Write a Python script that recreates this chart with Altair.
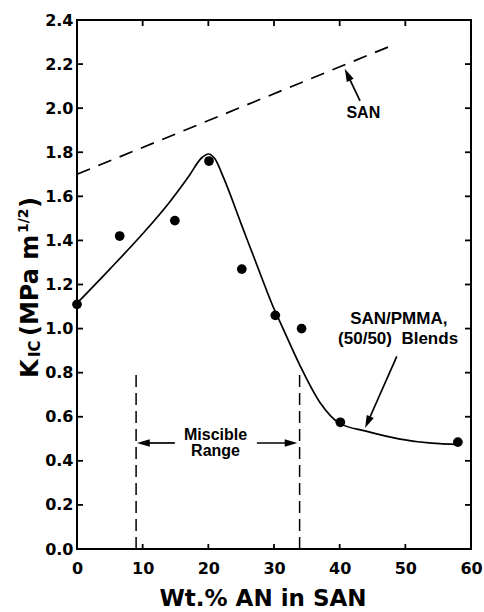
import math
import altair as alt
import pandas as pd

# ---------------- data ----------------
an_pts = [0, 6.5, 14.9, 20.1, 25.1, 30.2, 34.2, 40.1, 58.0]
kic_pts = [1.11, 1.42, 1.49, 1.76, 1.27, 1.06, 1.00, 0.575, 0.485]

curve_x = [0, 5, 10, 14, 17, 19, 20, 21, 22.3, 25, 27.9, 30, 31, 34, 37, 40, 44, 49, 54, 58]
curve_y = [1.115, 1.27, 1.43, 1.57, 1.69, 1.775, 1.792, 1.77, 1.686, 1.475, 1.249, 1.09,
           1.025, 0.83, 0.665, 0.57, 0.535, 0.50, 0.48, 0.475]

san_x = [0, 47.6]
san_y = [1.70, 2.28]

misc_x = [9.0, 33.9]
misc_top = [0.81, 0.80]

x_ticks = [0, 10, 20, 30, 40, 50, 60]
y_ticks = [0.0, 0.2, 0.4, 0.6, 0.8, 1.0, 1.2, 1.4, 1.6, 1.8, 2.0, 2.2, 2.4]

# annotations (data coordinates)
note_text = ["SAN", "Miscible", "Range", "SAN/PMMA,", "(50/50)\u00a0\u00a0Blends"]
note_x = [43.6, 21.1, 21.1, 49.0, 48.9]
note_y = [1.977, 0.518, 0.443, 1.045, 0.951]
note_size = [16, 16, 16, 17, 17]

arrow_tail_x = [43.1, 14.9, 27.4, 48.7]
arrow_tail_y = [2.033, 0.481, 0.481, 0.874]
arrow_head_x = [40.8, 9.2, 33.5, 43.9]
arrow_head_y = [2.177, 0.481, 0.481, 0.55]

W, H = 394, 529
XMAX, YMAX = 60, 2.4
FONT = "DejaVu Sans"
AFONT = "Liberation Sans"

xs = alt.Scale(domain=[0, XMAX], nice=False, zero=False)
ys = alt.Scale(domain=[0, YMAX], nice=False, zero=False)

x_axis = alt.Axis(values=x_ticks, labelFlush=False, ticks=False, domain=False, grid=False,
                  title=None, labelPadding=11, labelFont=FONT, labelFontWeight="bold",
                  labelFontSize=16, labelColor="black")
y_axis = alt.Axis(values=y_ticks, format=".1f", ticks=False, domain=False, grid=False,
                  title=None, labelPadding=4, labelFont=FONT, labelFontWeight="bold",
                  labelFontSize=16, labelColor="black")


def X(f):
    return alt.X(f, type="quantitative", scale=xs, axis=x_axis)


def Y(f):
    return alt.Y(f, type="quantitative", scale=ys, axis=y_axis)


# ---------------- layers ----------------
pts_df = pd.DataFrame({"an": an_pts, "k": kic_pts})
points = alt.Chart(pts_df).mark_circle(size=95, color="black", opacity=1).encode(
    x=X("an"), y=Y("k"))

curve_df = pd.DataFrame({"an": curve_x, "k": curve_y})
curve = alt.Chart(curve_df).mark_line(color="black", strokeWidth=1.7, interpolate="monotone").encode(
    x=X("an"), y=Y("k"))

san_df = pd.DataFrame({"an": san_x, "k": san_y})
san = alt.Chart(san_df).mark_line(color="black", strokeWidth=1.7, strokeDash=[14, 9]).encode(
    x=X("an"), y=Y("k"))

misc_df = pd.DataFrame({"an": misc_x, "k": [0, 0], "top": misc_top})
misc = alt.Chart(misc_df).mark_rule(color="black", strokeWidth=1.5, strokeDash=[12, 6]).encode(
    x=X("an"), y=Y("k"), y2="top:Q")

# arrows
pxx = W / XMAX
pxy = H / YMAX
rows = []
for x1, y1, x2, y2 in zip(arrow_tail_x, arrow_tail_y, arrow_head_x, arrow_head_y):
    sdx = (x2 - x1) * pxx
    sdy = (y2 - y1) * pxy
    L = math.hypot(sdx, sdy)
    ux, uy = sdx / L, sdy / L
    ang = math.degrees(math.atan2(sdx, sdy)) % 360
    rows.append({
        "an": x1, "k": y1,
        "xe": x2 - 6 * ux / pxx, "ye": y2 - 6 * uy / pxy,
        "cx": x2 - 6 * ux / pxx, "cy": y2 - 6 * uy / pxy,
        "ang": ang,
    })
arr_df = pd.DataFrame(rows)
arrow_lines = alt.Chart(arr_df).mark_rule(color="black", strokeWidth=1.7).encode(
    x=X("an"), y=Y("k"), x2="xe:Q", y2="ye:Q")
arrow_heads = alt.Chart(arr_df).mark_point(
    shape="M0,-1L-0.6,1L0.6,1Z", filled=True, color="black", opacity=1, size=160, strokeWidth=0
).encode(
    x=X("cx"), y=Y("cy"),
    angle=alt.Angle("ang:Q", scale=None),
)

note_df = pd.DataFrame({"t": note_text, "an": note_x, "k": note_y, "s": note_size})
notes = alt.Chart(note_df).mark_text(font=AFONT, fontWeight="bold", color="black",
                                     baseline="middle", align="center").encode(
    x=X("an"), y=Y("k"),
    text="t:N",
    size=alt.Size("s:Q", scale=None, legend=None),
)

# inward tick marks on all four sides
inner_y = [v for v in y_ticks if 0 < v < YMAX]
inner_x = [v for v in x_ticks if 0 < v < XMAX]
yt_df = pd.DataFrame({"k": inner_y})
xt_df = pd.DataFrame({"an": inner_x})
tick_left = alt.Chart(yt_df).mark_rule(color="black", strokeWidth=1.8).encode(
    y=Y("k"), x=alt.value(0), x2=alt.value(6))
tick_right = alt.Chart(yt_df).mark_rule(color="black", strokeWidth=1.8).encode(
    y=Y("k"), x=alt.value(W), x2=alt.value(W - 6))
tick_top = alt.Chart(xt_df).mark_rule(color="black", strokeWidth=1.8).encode(
    x=X("an"), y=alt.value(0), y2=alt.value(6))
tick_bot = alt.Chart(xt_df).mark_rule(color="black", strokeWidth=1.8).encode(
    x=X("an"), y=alt.value(H), y2=alt.value(H - 5))

# axis titles (composed text for sub/superscripts)
one = pd.DataFrame({"a": [0]})


def vtext(txt, px, py, fs):
    return alt.Chart(one).mark_text(text=txt, font=FONT, fontWeight="bold", fontSize=fs,
                                    angle=270, align="left", baseline="alphabetic",
                                    color="black").encode(x=alt.value(px), y=alt.value(py))


ytitle = [
    vtext("K", -39, 358, 24),
    vtext("IC", -37, 337, 15),
    vtext("(MPa m", -39, 316, 24),
    vtext("1/2", -49, 213, 14),
    vtext(")", -39, 188, 24),
]
xtitle = alt.Chart(one).mark_text(text="Wt.% AN in SAN", font=FONT, fontWeight="bold", fontSize=23,
                                  align="center", baseline="alphabetic", color="black").encode(
    x=alt.value(186), y=alt.value(586))

chart = alt.layer(
    points, curve, san, misc, arrow_lines, arrow_heads, notes,
    tick_left, tick_right, tick_top, tick_bot, xtitle, *ytitle
).properties(
    width=W, height=H,
    padding={"left": 77, "top": 20, "right": 13, "bottom": 63},
    autosize=alt.AutoSizeParams(type="none"),
    background="white",
).configure_view(stroke="black", strokeWidth=2)

chart.save("out.html", embed_options={"renderer": "svg", "actions": False})
